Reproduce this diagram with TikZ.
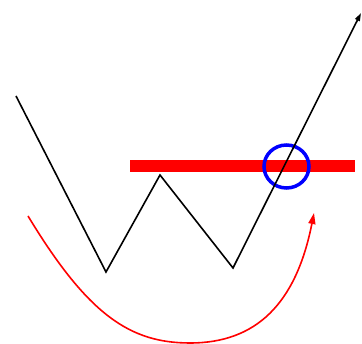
\documentclass[tikz,border=0pt]{standalone}
\usetikzlibrary{arrows.meta}
\begin{document}
\begin{tikzpicture}[x=1pt,y=-1pt,
  price/.style={line width=1.6pt,black,line join=miter,-{Triangle[length=8pt,width=5pt]}},
  level/.style={fill=red,draw=none},
  ring/.style={draw=blue,line width=3.5pt},
  hint/.style={draw=red,line width=1.6pt,-{Triangle[length=11pt,width=7pt]}}]
\useasboundingbox (0,0) rectangle (362,344);
\fill[white] (0,0) rectangle (362,344);
\coordinate (p0) at (16,96);
\coordinate (p1) at (106,272);
\coordinate (p2) at (160,175);
\coordinate (p3) at (233,268);
\coordinate (p4) at (361,13);
\coordinate (a0) at (28,216);
\coordinate (a1) at (190,343);
\coordinate (a2) at (314,213);
\path[level] (130,160) rectangle (355,172.5);
\draw[ring] (286.5,166.5) ellipse [x radius=22.5, y radius=21.5];
\draw[price] (p0) -- (p1) -- (p2) -- (p3) -- (p4);
\draw[hint] (a0) .. controls (88,315) and (130,343) .. (a1)
  .. controls (256,343) and (296,304) .. (a2);
\end{tikzpicture}
\end{document}
